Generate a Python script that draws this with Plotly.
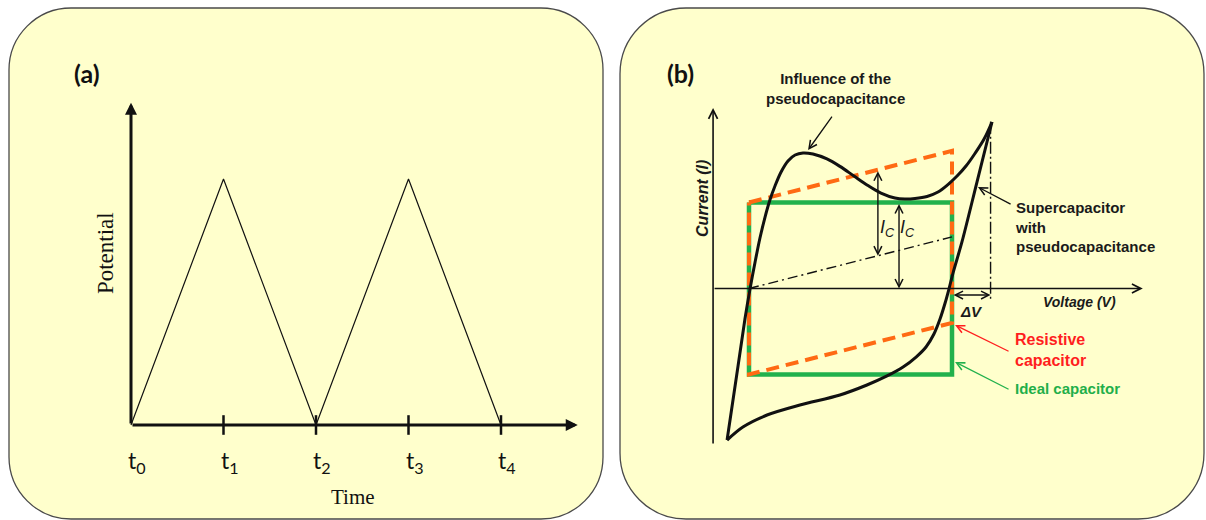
import plotly.graph_objects as go

W, H = 1206, 520

# ---------------- Panel (a): triangular potential sweep ----------------
time_pts = [0, 1, 2, 3, 4]
potential_pts = [0, 1, 0, 1, 0]
tick_times = [1, 2, 3, 4]
label_times = [0, 1, 2, 3, 4]
tick_labels = ["t<sub>0</sub>", "t<sub>1</sub>", "t<sub>2</sub>", "t<sub>3</sub>", "t<sub>4</sub>"]
time_axis_end = 4.83
potential_axis_end = 1.31
a_label_level = -0.15

# ---------------- Panel (b): cyclic voltammograms ----------------
ideal_v = [0, 1, 1, 0, 0]
ideal_i = [1.0, 1.0, -1.0, -1.0, 1.0]
resist_v = [0, 1, 1, 0, 0]
resist_i = [1.0, 1.6, -0.4, -1.0, 1.0]
ohmic_v = [0, 1]
ohmic_i = [0, 0.6]
pseudo_fwd_v = [-0.108, -0.054, -0.020, 0.005, 0.030, 0.054, 0.079, 0.103, 0.128, 0.158,
                0.192, 0.227, 0.266, 0.315, 0.384, 0.448, 0.517, 0.586, 0.650, 0.719,
                0.768, 0.818, 0.877, 0.931, 0.980, 1.025, 1.069, 1.113, 1.158, 1.197]
pseudo_fwd_i = [-1.762, -0.901, -0.355, -0.006, 0.308, 0.587, 0.831, 1.029, 1.192, 1.355,
                1.483, 1.552, 1.576, 1.563, 1.506, 1.420, 1.308, 1.197, 1.110, 1.053,
                1.041, 1.047, 1.070, 1.122, 1.209, 1.308, 1.424, 1.570, 1.738, 1.936]
pseudo_rev_v = [1.197, 1.123, 1.049, 1.005, 0.985, 0.966, 0.941, 0.911, 0.872, 0.823,
                0.759, 0.680, 0.581, 0.448, 0.251, 0.089, -0.030, -0.108]
pseudo_rev_i = [1.936, 1.238, 0.541, 0.180, -0.006, -0.169, -0.355, -0.529, -0.680, -0.797,
                -0.913, -1.017, -1.122, -1.238, -1.355, -1.471, -1.610, -1.762]
vertex_v = [1.19, 1.19]
vertex_i = [1.94, -0.13]
voltage_axis = [-0.177, 1.94]
current_axis = [-1.82, 2.10]
delta_v_span = [1.0, 1.19]
delta_v_level = -0.076
ic_ohmic_v = 0.635
ic_ohmic_span = [1.381, 0.381]
ic_ideal_v = 0.739
ic_ideal_span = [1.0, 0.0]

# ---------------- pixel anchors for the two coordinate systems ----------------
A_X0, A_XS, A_Y0, A_YS = 131, 92.5, 425, 246
B_X0, B_XS, B_Y0, B_YS = 749, 203, 288.5, 86

BLACK = "#111111"
ORANGE = "#FF6A13"
GREEN = "#22B14C"
RED = "#FF1E1E"
TXT_GREEN = "#1FAF4A"
FILL = "#FFFFCC"

fig = go.Figure()

# panel (a) traces
fig.add_trace(go.Scatter(x=time_pts, y=potential_pts, mode="lines",
                         line=dict(color=BLACK, width=1.2), xaxis="x", yaxis="y"))
fig.add_trace(go.Scatter(x=tick_times, y=[0] * len(tick_times), mode="markers",
                         marker=dict(symbol="line-ns", size=14,
                                     line=dict(color=BLACK, width=2.5)),
                         xaxis="x", yaxis="y"))

# panel (b) traces
fig.add_trace(go.Scatter(x=ideal_v, y=ideal_i, mode="lines",
                         line=dict(color=GREEN, width=4.5), xaxis="x2", yaxis="y2"))
fig.add_trace(go.Scatter(x=resist_v, y=resist_i, mode="lines",
                         line=dict(color=ORANGE, width=4, dash="13px,7px"),
                         xaxis="x2", yaxis="y2"))
fig.add_trace(go.Scatter(x=ohmic_v, y=ohmic_i, mode="lines",
                         line=dict(color=BLACK, width=1.4, dash="10px,4px,2px,4px"),
                         xaxis="x2", yaxis="y2"))
fig.add_trace(go.Scatter(x=vertex_v, y=vertex_i, mode="lines",
                         line=dict(color=BLACK, width=1.4, dash="12px,3px,2px,3px"),
                         xaxis="x2", yaxis="y2"))
fig.add_trace(go.Scatter(x=pseudo_fwd_v, y=pseudo_fwd_i, mode="lines",
                         line=dict(color=BLACK, width=3, shape="spline", smoothing=1.0),
                         xaxis="x2", yaxis="y2"))
fig.add_trace(go.Scatter(x=pseudo_rev_v, y=pseudo_rev_i, mode="lines",
                         line=dict(color=BLACK, width=3, shape="spline", smoothing=0.9),
                         xaxis="x2", yaxis="y2"))


def rrect(x0, y0, x1, y1, r):
    k = 0.5523 * r
    X = lambda p: p / W
    Y = lambda p: 1 - p / H
    return (f"M {X(x0 + r)},{Y(y0)} L {X(x1 - r)},{Y(y0)} "
            f"C {X(x1 - r + k)},{Y(y0)} {X(x1)},{Y(y0 + r - k)} {X(x1)},{Y(y0 + r)} "
            f"L {X(x1)},{Y(y1 - r)} "
            f"C {X(x1)},{Y(y1 - r + k)} {X(x1 - r + k)},{Y(y1)} {X(x1 - r)},{Y(y1)} "
            f"L {X(x0 + r)},{Y(y1)} "
            f"C {X(x0 + r - k)},{Y(y1)} {X(x0)},{Y(y1 - r + k)} {X(x0)},{Y(y1 - r)} "
            f"L {X(x0)},{Y(y0 + r)} "
            f"C {X(x0)},{Y(y0 + r - k)} {X(x0 + r - k)},{Y(y0)} {X(x0 + r)},{Y(y0)} Z")


shapes = [
    dict(type="path", xref="paper", yref="paper", path=rrect(9, 8, 603, 519, 62),
         fillcolor=FILL, line=dict(color="#4A4A4A", width=1.3), layer="below"),
    dict(type="path", xref="paper", yref="paper", path=rrect(620, 8, 1204, 519, 66),
         fillcolor=FILL, line=dict(color="#4A4A4A", width=1.3), layer="below"),
]

ann = []
# panel labels
ann.append(dict(xref="paper", yref="paper", x=72 / W, y=1 - 56 / H, text="<b>(a)</b>",
                showarrow=False, font=dict(family="Lato", size=25, color="#111")))
ann.append(dict(xref="paper", yref="paper", x=680 / W, y=1 - 56 / H, text="<b>(b)</b>",
                showarrow=False, font=dict(family="Lato", size=25, color="#111")))

# panel (a) axes arrows
ann.append(dict(xref="x", yref="y", axref="x", ayref="y", x=time_axis_end, y=0, ax=0, ay=0,
                text="", showarrow=True, arrowhead=2, arrowsize=0.8, arrowwidth=3,
                arrowcolor=BLACK, standoff=0))
ann.append(dict(xref="x", yref="y", axref="x", ayref="y", x=0, y=potential_axis_end, ax=0, ay=0,
                text="", showarrow=True, arrowhead=2, arrowsize=0.8, arrowwidth=3,
                arrowcolor=BLACK, standoff=0))
for t, lab in zip(label_times, tick_labels):
    ann.append(dict(xref="x", yref="y", x=t, y=a_label_level, text=lab, showarrow=False,
                    xshift=6, font=dict(family="Lato", size=23, color="#111")))
ann.append(dict(xref="x", yref="y", x=2.40, y=-0.293, text="Time", showarrow=False,
                font=dict(family="Liberation Serif", size=21, color="#111")))
ann.append(dict(xref="x", yref="y", x=-0.281, y=0.699, text="Potential", showarrow=False,
                textangle=-90, font=dict(family="Liberation Serif", size=23, color="#111")))


def arrow(x, y, ax, ay, color=BLACK, width=1.3, head=5, size=1.2, both=False):
    d = dict(xref="x2", yref="y2", axref="x2", ayref="y2", x=x, y=y, ax=ax, ay=ay,
             text="", showarrow=True, arrowhead=head, arrowsize=size, arrowwidth=width,
             arrowcolor=color, standoff=0, startstandoff=0)
    if both:
        d.update(arrowside="end+start", startarrowhead=head, startarrowsize=size)
    return d


# panel (b) axes
ann.append(arrow(voltage_axis[1], 0, voltage_axis[0], 0, width=1.6, size=1.1))
ann.append(arrow(voltage_axis[0], current_axis[1], voltage_axis[0], current_axis[0],
                 width=1.6, size=1.1))
# delta V and I_c arrows
ann.append(arrow(delta_v_span[1], delta_v_level, delta_v_span[0], delta_v_level,
                 width=1.4, size=1.1, both=True))
ann.append(arrow(ic_ohmic_v, ic_ohmic_span[1], ic_ohmic_v, ic_ohmic_span[0],
                 width=1.4, size=1.1, both=True))
ann.append(arrow(ic_ideal_v, ic_ideal_span[1], ic_ideal_v, ic_ideal_span[0],
                 width=1.4, size=1.1, both=True))
# pointer arrows
ann.append(arrow(0.291, 1.61, 0.414, 2.017))
ann.append(arrow(1.128, 1.180, 1.296, 0.971))
ann.append(arrow(1.015, -0.424, 1.286, -0.738, color=RED))
ann.append(arrow(1.015, -0.855, 1.286, -1.18, color=GREEN))

FB = "Liberation Sans"


def txt(x, y, s, size=15, color="#1a1a1a", xanchor="center", angle=0, align="center"):
    return dict(xref="x2", yref="y2", x=x, y=y, text=s, showarrow=False, xanchor=xanchor,
                align=align, textangle=angle, font=dict(family=FB, size=size, color=color))


ann.append(txt(0.424, 2.32, "<b>Influence of the<br>pseudocapacitance</b>"))
ann.append(txt(1.30, 0.715, "<b>Supercapacitor<br>with<br>pseudocapacitance</b>",
               xanchor="left", align="left"))
ann.append(txt(1.30, -0.715, "<b>Resistive<br>capacitor</b>", size=16, color=RED,
               xanchor="left", align="left"))
ann.append(txt(1.30, -1.157, "<b>Ideal capacitor</b>", size=15, color=TXT_GREEN,
               xanchor="left", align="left"))
ann.append(txt(1.63, -0.157, "<b><i>Voltage (V)</i></b>", size=14))
ann.append(txt(1.098, -0.273, "<b><i>ΔV</i></b>", size=15))
ann.append(txt(-0.232, 1.052, "<b><i>Current (I)</i></b>", size=16, angle=-90))
ann.append(txt(0.68, 0.70, "<i>I</i><sub><i>C</i></sub>", size=18))
ann.append(txt(0.78, 0.70, "<i>I</i><sub><i>C</i></sub>", size=18))

hidden = dict(visible=False, showgrid=False, zeroline=False, fixedrange=True)
fig.update_layout(
    width=W, height=H, autosize=False,
    margin=dict(l=0, r=0, t=0, b=0, pad=0),
    paper_bgcolor="white", plot_bgcolor="rgba(0,0,0,0)",
    showlegend=False,
    shapes=shapes, annotations=ann,
    xaxis=dict(range=[-A_X0 / A_XS, (W - A_X0) / A_XS], domain=[0, 1], **hidden),
    yaxis=dict(range=[(A_Y0 - H) / A_YS, A_Y0 / A_YS], domain=[0, 1], **hidden),
    xaxis2=dict(range=[-B_X0 / B_XS, (W - B_X0) / B_XS], domain=[0, 1], overlaying="x",
                anchor="y2", **hidden),
    yaxis2=dict(range=[(B_Y0 - H) / B_YS, B_Y0 / B_YS], domain=[0, 1], overlaying="y",
                anchor="x2", **hidden),
)

fig.write_html("out.html")
